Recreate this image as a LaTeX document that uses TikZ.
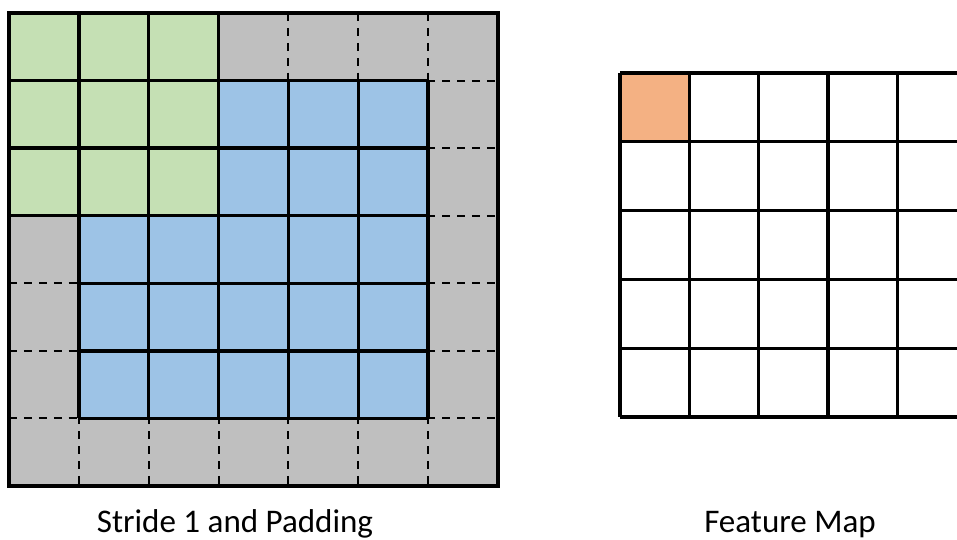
\documentclass[tikz,border=0pt]{standalone}
\usepackage{fontspec}
\setmainfont{Carlito}
\definecolor{padgray}{HTML}{BFBFBF}
\definecolor{inblue}{HTML}{9DC3E6}
\definecolor{kgreen}{HTML}{C5E0B4}
\definecolor{outorange}{HTML}{F4B183}
\begin{document}
\begin{tikzpicture}[x=0.02cm,y=-0.02cm,
    gridline/.style={line width=1.9pt},
    padline/.style={line width=1.1pt,dash pattern=on 4.5pt off 4pt},
    caption/.style={font=\fontsize{18.8}{22}\selectfont,anchor=base}]
  \clip (0,0) rectangle (957,540);
  % padded input with kernel
  \begin{scope}[shift={(9,13)},xscale=69.86,yscale=67.57]
    \fill[padgray] (0,0) rectangle (7,7);
    \foreach \k in {1,...,6} {
      \draw[padline] (\k,0)--(\k,7);
      \draw[padline] (0,\k)--(7,\k);
    }
    \fill[inblue] (1,1) rectangle (6,6);
    \foreach \k in {1,...,6} {
      \draw[gridline] (\k,1)--(\k,6);
      \draw[gridline] (1,\k)--(6,\k);
    }
    \fill[kgreen] (0,0) rectangle (3,3);
    \foreach \k in {0,...,3} {
      \draw[gridline] (\k,0)--(\k,3);
      \draw[gridline] (0,\k)--(3,\k);
    }
    \draw[gridline] (0,0) rectangle (7,7);
  \end{scope}
  % output map
  \begin{scope}[shift={(620,73)},xscale=69.3,yscale=68.8]
    \fill[outorange] (0,0) rectangle (1,1);
    \foreach \k in {0,...,5} {
      \draw[gridline] (\k,0)--(\k,5);
      \draw[gridline] (0,\k)--(5,\k);
    }
  \end{scope}
  \node[caption] (padcap) at (235,532) {Stride 1 and Padding};
  \node[caption] (mapcap) at (790,532) {Feature Map};
\end{tikzpicture}
\end{document}
